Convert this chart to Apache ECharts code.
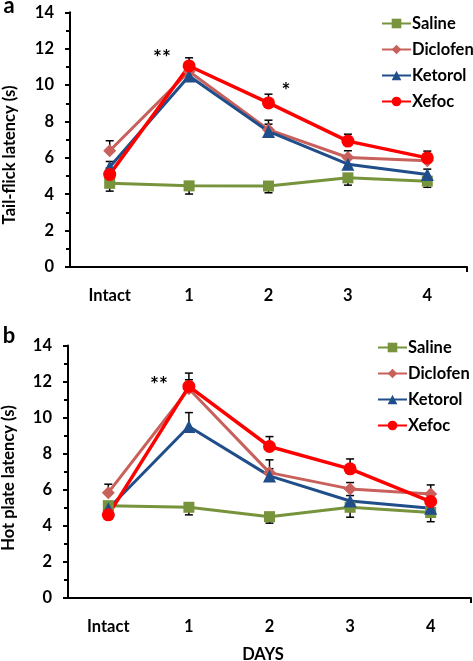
<!DOCTYPE html>
<html>
<head>
<meta charset="utf-8">
<script src="https://cdn.jsdelivr.net/npm/echarts@6/dist/echarts.min.js"></script>
<style>
  html, body { margin: 0; padding: 0; background: #fff; }
  #chart { width: 473px; height: 661px; }
</style>
</head>
<body>
<div id="chart"></div>
<script>
// 数据
var days = ['Intact', '1', '2', '3', '4'];
var names = ['Saline', 'Diclofen', 'Ketorol', 'Xefoc'];
var colors = ['#77933C', '#C8605C', '#1F4E8A', '#FF0000'];
var symbols = ['rect', 'diamond', 'triangle', 'circle'];
var sizes = [11, 13, 13, 13];
var yTicks = [0, 14, 2];

// a: tail-flick
var tailSaline = [4.6, 4.46, 4.45, 4.9, 4.72];
var tailDiclofen = [6.39, 10.75, 7.55, 6.02, 5.84];
var tailKetorol = [5.5, 10.5, 7.45, 5.65, 5.08];
var tailXefoc = [5.09, 11.05, 9.02, 6.92, 6.0];
var tailSalineErr = [0.43, 0.45, 0.37, 0.40, 0.34];
var tailDiclofenErr = [0.55, 0.4, 0.52, 0.37, 0.35];
var tailKetorolErr = [0.3, 0.35, 0.4, 0.3, 0.3];
var tailXefocErr = [0.35, 0.45, 0.48, 0.38, 0.37];

// b: hot plate
var hotSaline = [5.12, 5.03, 4.51, 5.03, 4.74];
var hotDiclofen = [5.84, 11.6, 6.95, 6.05, 5.77];
var hotKetorol = [4.95, 9.51, 6.77, 5.38, 4.98];
var hotXefoc = [4.61, 11.73, 8.40, 7.16, 5.35];
var hotSalineErr = [0.4, 0.42, 0.36, 0.55, 0.51];
var hotDiclofenErr = [0.47, 0.5, 0.71, 0.35, 0.5];
var hotKetorolErr = [0.3, 0.77, 0.4, 0.3, 0.3];
var hotXefocErr = [0.4, 0.74, 0.55, 0.55, 0.4];

var FONT = 'Lato';

var grids = [
  { left: 70, top: 12.3, width: 397, height: 254.7 },
  { left: 68, top: 345.5, width: 403, height: 252.5 }
];

function xAxisOf(i) {
  return {
    type: 'category', gridIndex: i, data: days, boundaryGap: true,
    axisLine: { lineStyle: { color: '#000', width: 2 } },
    axisTick: { alignWithLabel: true, length: 5, lineStyle: { color: '#000', width: 2 } },
    axisLabel: { margin: 20, color: '#000', fontFamily: FONT, fontWeight: 'bold', fontSize: 16.5 },
    splitLine: { show: false }
  };
}
function yAxisOf(i) {
  return {
    type: 'value', gridIndex: i, min: yTicks[0], max: yTicks[1], interval: yTicks[2],
    axisLine: { show: true, lineStyle: { color: '#000', width: 2 } },
    axisTick: { show: true, length: 5, lineStyle: { color: '#000', width: 2 } },
    minorTick: { show: true, splitNumber: 2, length: 4, lineStyle: { color: '#000', width: 2 } },
    axisLabel: { margin: 16, color: '#000', fontFamily: FONT, fontWeight: 'bold', fontSize: 16.5 },
    splitLine: { show: false }
  };
}

// 误差线
function errSeries(i, vals, errs, down) {
  var d = vals.map(function (v, k) {
    return down ? [k, v - errs[k], v, v - errs[k]] : [k, v, v + errs[k], v + errs[k]];
  });
  return {
    type: 'custom', xAxisIndex: i, yAxisIndex: i, z: 1, silent: true,
    renderItem: function (params, api) {
      var a = api.coord([api.value(0), api.value(1)]);
      var b = api.coord([api.value(0), api.value(2)]);
      var c = api.coord([api.value(0), api.value(3)]);
      var st = { stroke: '#000', lineWidth: 1.5 };
      return { type: 'group', children: [
        { type: 'line', shape: { x1: a[0], y1: a[1], x2: b[0], y2: b[1] }, style: st },
        { type: 'line', shape: { x1: c[0] - 4, y1: c[1], x2: c[0] + 4, y2: c[1] }, style: st }
      ] };
    },
    data: d
  };
}

function lineSeries(i, k, vals) {
  return {
    type: 'line', name: names[k], xAxisIndex: i, yAxisIndex: i, z: 3,
    data: vals, symbol: symbols[k], symbolSize: sizes[k], showAllSymbol: true,
    color: colors[k],
    lineStyle: { color: colors[k], width: k === 3 ? 3.5 : 3 },
    itemStyle: { color: colors[k] },
    emphasis: { disabled: true }, animation: false
  };
}

var series = [];
var sets = [
  [tailSaline, tailDiclofen, tailKetorol, tailXefoc],
  [hotSaline, hotDiclofen, hotKetorol, hotXefoc]
];
var errs = [
  [tailSalineErr, tailDiclofenErr, tailKetorolErr, tailXefocErr],
  [hotSalineErr, hotDiclofenErr, hotKetorolErr, hotXefocErr]
];
for (var g = 0; g < 2; g++) {
  for (var k = 0; k < 4; k++) {
    series.push(errSeries(g, sets[g][k], errs[g][k], k === 0));
  }
  for (var k2 = 0; k2 < 4; k2++) {
    series.push(lineSeries(g, k2, sets[g][k2]));
  }
}

function legendOf(left, top) {
  return {
    data: names, orient: 'vertical', left: left, top: top, padding: 0,
    itemWidth: 29, itemHeight: 12, itemGap: 9,
    textStyle: { color: '#000', fontFamily: FONT, fontWeight: 'bold', fontSize: 16.5, lineHeight: 13, padding: [0, 0, 0, -4] },
    selectedMode: false
  };
}

function txt(x, y, s, size, rot) {
  return {
    type: 'text', x: x, y: y, rotation: rot || 0,
    style: { text: s, fill: '#000', font: 'bold ' + size + 'px ' + FONT, textAlign: 'center', textVerticalAlign: 'middle' }
  };
}

var chart = echarts.init(document.getElementById('chart'));
chart.setOption({
  animation: false,
  backgroundColor: '#fff',
  grid: grids,
  xAxis: [xAxisOf(0), xAxisOf(1)],
  yAxis: [yAxisOf(0), yAxisOf(1)],
  legend: [legendOf(381, 15), legendOf(377, 339)],
  series: series,
  graphic: [
    txt(9, 6, 'a', 22),
    txt(9, 336, 'b', 22),
    txt(10, 155, 'Tail-flick latency (s)', 16.5, Math.PI / 2),
    txt(9, 478, 'Hot plate latency (s)', 16.5, Math.PI / 2),
    txt(263, 655, 'DAYS', 16.5),
    txt(162, 58, '**', 21),
    txt(286, 91, '*', 21),
    txt(159, 385, '**', 21),
    { type: 'line', shape: { x1: 467, y1: 267, x2: 467, y2: 272 }, style: { stroke: '#000', lineWidth: 2 } },
    { type: 'line', shape: { x1: 471, y1: 598, x2: 471, y2: 603 }, style: { stroke: '#000', lineWidth: 2 } }
  ]
});
</script>
</body>
</html>
